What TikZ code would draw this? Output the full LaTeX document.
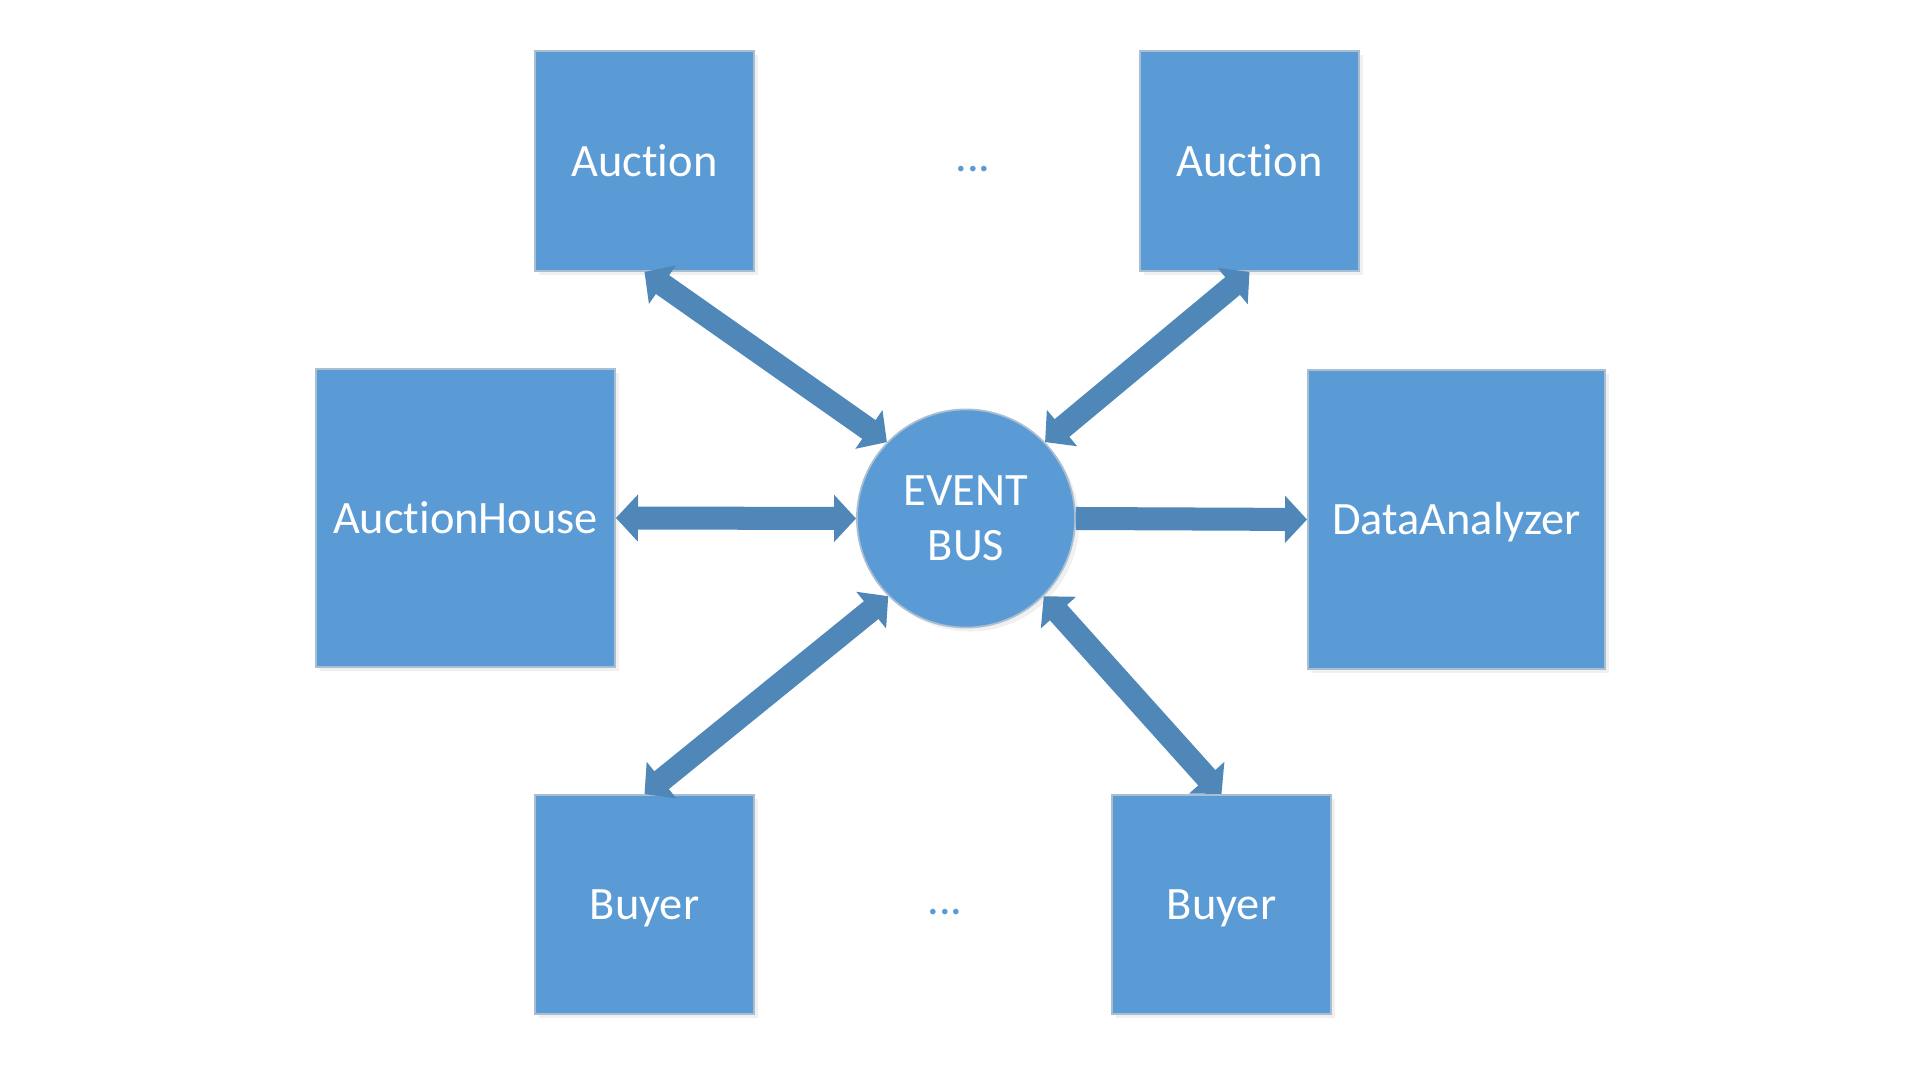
\documentclass[tikz,border=0pt]{standalone}
\usepackage{fontspec}
\setmainfont[Ligatures=NoCommon]{Carlito}
\usepackage{tikz}
\usetikzlibrary{arrows.meta, positioning, shadows}
\definecolor{boxblue}{RGB}{91,155,213}
\definecolor{arrowblue}{RGB}{79,135,185}
\definecolor{edgegray}{RGB}{170,190,210}
\tikzset{
    box/.style={rectangle, inner sep=0pt, draw=edgegray, line width=0.5pt, fill=boxblue,
                text=white, text height=8.6pt, text depth=0pt, font=\fontsize{13.2}{15.6}\selectfont,
                drop shadow={opacity=0.12, shadow xshift=0.4mm, shadow yshift=-0.4mm}},
    bus/.style={circle, inner sep=0pt, minimum size=2.18cm, draw=edgegray, line width=0.5pt,
                fill=boxblue, text=white, align=center, font=\fontsize{13.2}{15.6}\selectfont,
                drop shadow={opacity=0.12, shadow xshift=0.4mm, shadow yshift=-0.4mm}},
    dots/.style={text=boxblue, font=\fontsize{13.2}{15.6}\selectfont},
    arrow/.style={line width=2.3mm, draw=arrowblue,
                  >={Triangle[length=2.2mm, width=4.6mm]}}
}

\begin{document}
\begin{tikzpicture}[x=0.01cm, y=-0.01cm]
    \useasboundingbox (0,0) rectangle (1920,1080);

    % Event bus in the middle
    \node[bus] (bus) at (966,518.5) {EVENT\\BUS};

    % Auctions on top
    \node[box, minimum width=2.19cm, minimum height=2.2cm] (auctionA) at (644.5,161) {Auction};
    \node[box, minimum width=2.19cm, minimum height=2.2cm] (auctionB) at (1249.5,161) {Auction};
    \node[dots] (dotsTop) at (973,169) {...};

    % Auction house and analyzer
    \node[box, minimum width=2.99cm, minimum height=2.98cm] (house) at (465.5,518) {AuctionHouse};
    \node[box, minimum width=2.97cm, minimum height=2.99cm] (analyzer) at (1456.5,519.5) {DataAnalyzer};

    % Buyers at the bottom
    \node[box, minimum width=2.19cm, minimum height=2.19cm] (buyerA) at (644.5,904.5) {Buyer};
    \node[box, minimum width=2.19cm, minimum height=2.19cm] (buyerB) at (1221.5,904.5) {Buyer};
    \node[dots] (dotsBottom) at (945,912) {...};

    % Arrows to and from the bus
    \draw[arrow, <->] (auctionA.south) -- (bus.136);
    \draw[arrow, <->] (auctionB.south) -- (bus.44);
    \draw[arrow, <->] (house.east) -- (bus.west);
    \draw[arrow, ->] (bus.east) -- (analyzer.west);
    \draw[arrow, <->] (buyerA.north) -- (bus.225);
    \draw[arrow, <->] (buyerB.north) -- (bus.-45);
\end{tikzpicture}
\end{document}
